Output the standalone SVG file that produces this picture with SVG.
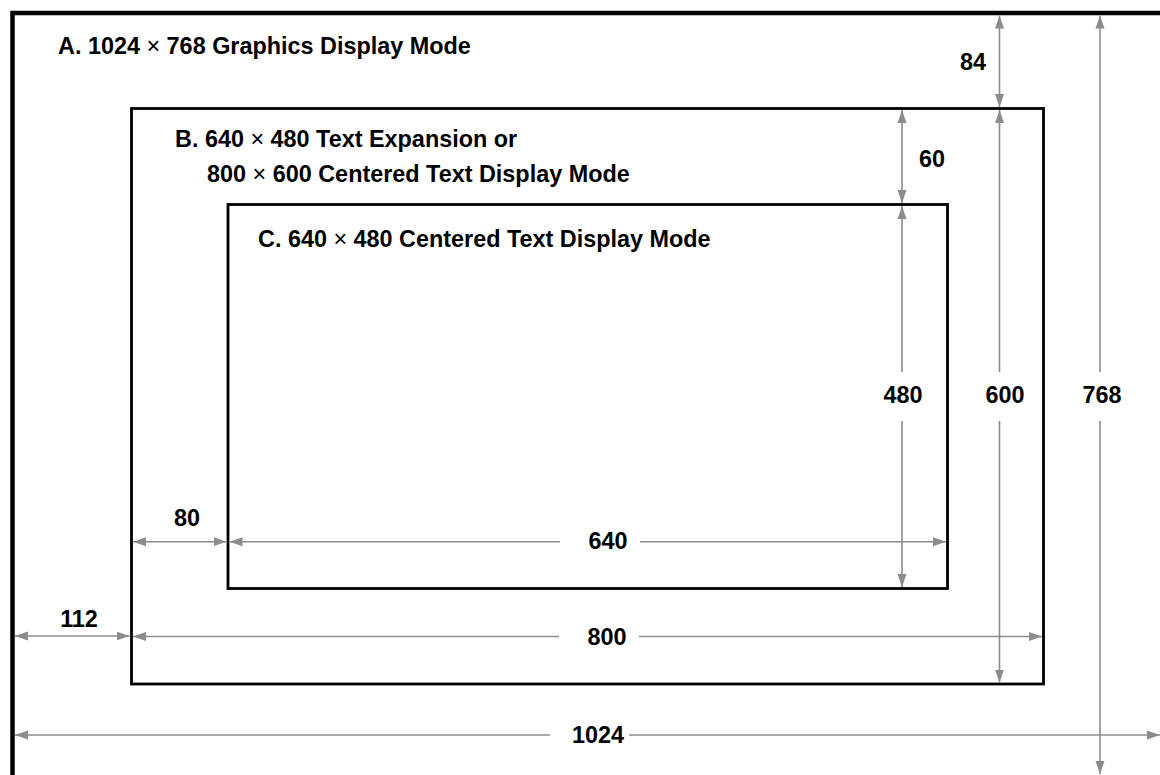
<svg xmlns="http://www.w3.org/2000/svg" width="1160" height="775" viewBox="0 0 1160 775">
<style>
  text { font-family: "Liberation Sans", Arial, sans-serif; font-weight: bold; font-size: 23.4px; fill: #000; }
  .x { font-weight: normal; }
  .n { text-anchor: middle; }
  .frame { fill: none; stroke: #000; }
  .dim { stroke: #8c8c8c; stroke-width: 1.6; fill: none; }
</style>
<defs>
  <marker id="ah" markerUnits="userSpaceOnUse" markerWidth="14" markerHeight="10" refX="13" refY="4.5" orient="auto-start-reverse" viewBox="0 0 14 9">
    <path d="M0,0 L13,4.5 L0,9 z" fill="#8c8c8c"/>
  </marker>
</defs>
<rect x="0" y="0" width="1160" height="775" fill="#fff"/>

<g id="nodeA">
  <path class="frame" stroke-width="4.5" d="M12.5,780 V13 H1165"/>
  <text x="58" y="54">A. 1024 <tspan class="x">×</tspan> 768 Graphics Display Mode</text>
</g>
<g id="nodeB">
  <rect class="frame" stroke-width="2.8" x="131.5" y="108.5" width="912" height="575.5"/>
  <text x="175" y="147">B. 640 <tspan class="x">×</tspan> 480 Text Expansion or</text>
  <text x="207" y="182">800 <tspan class="x">×</tspan> 600 Centered Text Display Mode</text>
</g>
<g id="nodeC">
  <rect class="frame" stroke-width="2.8" x="228" y="204.5" width="719.5" height="384"/>
  <text x="258" y="247">C. 640 <tspan class="x">×</tspan> 480 Centered Text Display Mode</text>
</g>

<g id="connectors">
  <line class="dim" x1="999.5" y1="107" x2="999.5" y2="15.5" marker-start="url(#ah)" marker-end="url(#ah)"/>
  <line class="dim" x1="999.5" y1="372" x2="999.5" y2="110" marker-end="url(#ah)"/>
  <line class="dim" x1="999.5" y1="421" x2="999.5" y2="682.5" marker-end="url(#ah)"/>
  <line class="dim" x1="1100" y1="372" x2="1100" y2="15.5" marker-end="url(#ah)"/>
  <line class="dim" x1="1100" y1="421" x2="1100" y2="774" marker-end="url(#ah)"/>
  <line class="dim" x1="902" y1="110" x2="902" y2="203" marker-start="url(#ah)" marker-end="url(#ah)"/>
  <line class="dim" x1="902" y1="372" x2="902" y2="206" marker-end="url(#ah)"/>
  <line class="dim" x1="902" y1="421" x2="902" y2="587" marker-end="url(#ah)"/>
  <line class="dim" x1="133" y1="541.7" x2="226.5" y2="541.7" marker-start="url(#ah)" marker-end="url(#ah)"/>
  <line class="dim" x1="560" y1="541.7" x2="229.5" y2="541.7" marker-end="url(#ah)"/>
  <line class="dim" x1="640" y1="541.7" x2="946" y2="541.7" marker-end="url(#ah)"/>
  <line class="dim" x1="15" y1="636" x2="129.5" y2="636" marker-start="url(#ah)" marker-end="url(#ah)"/>
  <line class="dim" x1="559" y1="636.5" x2="133" y2="636.5" marker-end="url(#ah)"/>
  <line class="dim" x1="639" y1="636.5" x2="1042" y2="636.5" marker-end="url(#ah)"/>
  <line class="dim" x1="550" y1="735" x2="15" y2="735" marker-end="url(#ah)"/>
  <line class="dim" x1="629" y1="735" x2="1160" y2="735" marker-end="url(#ah)"/>
</g>

<g id="labels">
  <text class="n" x="973" y="70">84</text>
  <text class="n" x="932" y="167">60</text>
  <text class="n" x="903" y="403">480</text>
  <text class="n" x="1005" y="403">600</text>
  <text class="n" x="1102" y="403">768</text>
  <text class="n" x="187" y="526">80</text>
  <text class="n" x="608" y="549">640</text>
  <text class="n" x="79" y="627">112</text>
  <text class="n" x="607" y="645">800</text>
  <text class="n" x="598" y="743">1024</text>
</g>
</svg>
